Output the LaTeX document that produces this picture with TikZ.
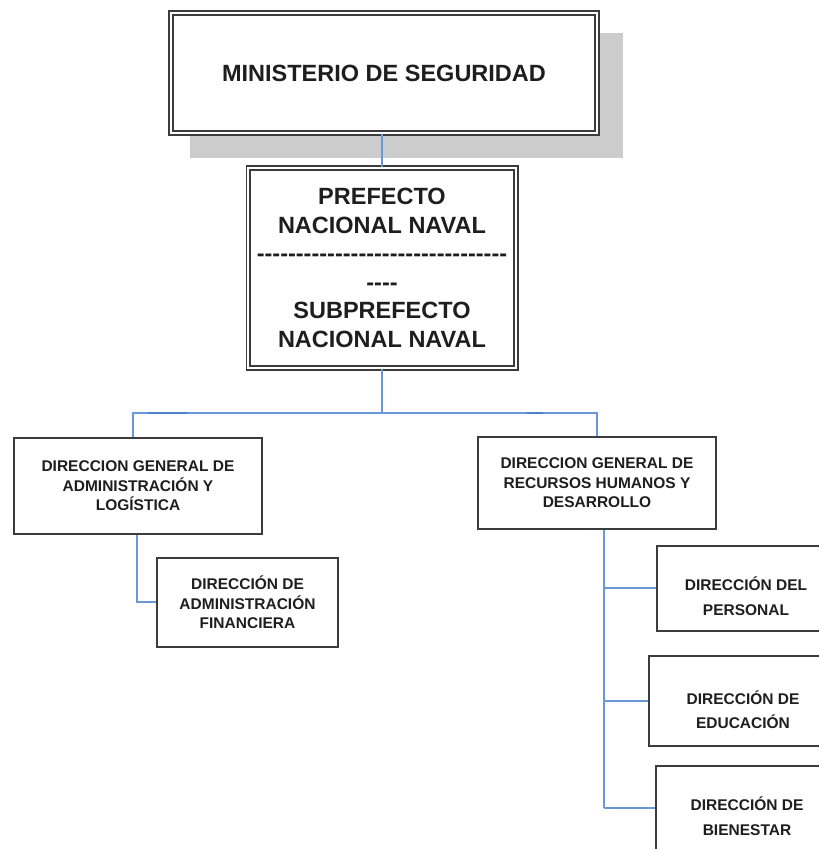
\documentclass[tikz,border=0pt]{standalone}
\usepackage{fontspec}
\newfontfamily\arialfam{Liberation Sans}
\definecolor{boxc}{HTML}{3C3C3C}
\definecolor{txtc}{HTML}{1E1E1E}
\definecolor{connc}{HTML}{6A97D8}
\definecolor{conndk}{HTML}{4F7FC8}
\definecolor{shadc}{HTML}{CCCCCC}
\newcommand\hypk{-\kern0pt}
\newcommand\hypfour{\hypk\hypk\hypk\hypk}
\begin{document}
\begin{tikzpicture}[x=1pt,y=-1pt,
  bigfont/.style={font=\arialfam\fontsize{23.5}{28.6}\selectfont\bfseries},
  smallfont/.style={font=\arialfam\fontsize{15.5}{19.5}\selectfont\bfseries},
  widefont/.style={font=\arialfam\fontsize{15.5}{24.5}\selectfont\bfseries},
  dbox/.style={draw=boxc, line width=1.8pt, double=white, double distance=2pt,
    fill=white, align=center, inner sep=0pt, text=txtc, bigfont},
  sbox/.style={draw=boxc, line width=1.8pt, fill=white, align=center,
    inner sep=0pt, text=txtc, smallfont},
  boxtext/.style={align=center, inner sep=0pt, text=txtc, widefont},
  conn/.style={draw=connc, line width=1.7pt},
  connthick/.style={draw=conndk, line width=2.6pt}
]
\clip (0,0) rectangle (819,849);
\fill[white] (0,0) rectangle (819,849);
% shadow of the top box
\fill[shadc] (190,33) rectangle (623,158);
% boxes
\node[dbox, minimum width=426.4pt, minimum height=120.4pt] (min) at (384,73)
  {MINISTERIO DE SEGURIDAD};
\node[dbox, minimum width=267.4pt, minimum height=200.4pt] (pref) at (382,268)
  {PREFECTO\\NACIONAL NAVAL\\\hypfour\hypfour\hypfour\hypfour\hypfour\hypfour\hypfour\hypfour\\\hypfour\\SUBPREFECTO\\NACIONAL NAVAL};
\node[sbox, minimum width=248pt, minimum height=96pt] (dga) at (138,486)
  {DIRECCION GENERAL DE\\ADMINISTRACIÓN Y\\LOGÍSTICA};
\node[sbox, minimum width=238pt, minimum height=92pt] (dgr) at (597,483)
  {DIRECCION GENERAL DE\\RECURSOS HUMANOS Y\\DESARROLLO};
\node[sbox, minimum width=181pt, minimum height=89pt] (fin) at (247.5,602.5)
  {DIRECCIÓN DE\\ADMINISTRACIÓN\\FINANCIERA};
\node[sbox, minimum width=178pt, minimum height=85pt] (per) at (746,588.5) {};
\node[boxtext] (perT) at (746,596) {DIRECCIÓN DEL\\PERSONAL};
\node[sbox, minimum width=186pt, minimum height=90pt] (edu) at (742,701) {};
\node[boxtext] (eduT) at (743,709.5) {DIRECCIÓN DE\\EDUCACIÓN};
\node[sbox, minimum width=182pt, minimum height=98pt] (bie) at (747,815) {};
\node[boxtext] (bieT) at (747,816) {DIRECCIÓN DE\\BIENESTAR};
% connector coordinates
\coordinate (bl) at (133,413);
\coordinate (br) at (597,413);
\coordinate (la) at (137,602);
\coordinate (rt) at (604,588);
\coordinate (re) at (604,701);
\coordinate (rb) at (604,808);
% connectors
\draw[conn] (pref.north |- min.south) -- (pref.north);
\draw[conn] (pref.south) -- (pref.south |- bl);
\draw[conn] (dga.north -| bl) -- (bl) -- (br) -- (dgr.north);
\draw[connthick] (148,413) -- (187,413);
\draw[connthick] (527,413) -- (543,413);
\draw[conn] (dga.south -| la) -- (la) -- (la -| fin.west);
\draw[conn] (dgr.south -| rt) -- (rb);
\draw[conn] (rt) -- (rt -| per.west);
\draw[conn] (re) -- (re -| edu.west);
\draw[conn] (rb) -- (rb -| bie.west);
\end{tikzpicture}
\end{document}
